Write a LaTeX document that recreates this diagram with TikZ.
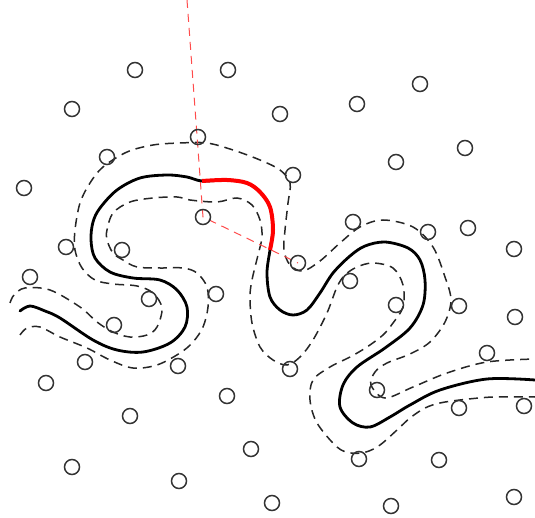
\documentclass[tikz,border=0pt]{standalone}
\usepackage{tikz}

\tikzset{
  sample/.style={draw=black!80,line width=1.5pt},
  band/.style={draw=black!85,line width=1.5pt,dash pattern=on 9pt off 6pt},
  walk/.style={line width=2.8pt,line cap=round},
  piece/.style={red,line width=4pt},
  ray/.style={red!70,line width=1pt,dash pattern=on 8pt off 6pt}
}

\begin{document}
\begin{tikzpicture}[x=1pt,y=-1pt]
  \useasboundingbox (0,0) rectangle (535,518);

  % dashed side curves
  \draw [band] plot [smooth,tension=0.55] coordinates {
    (10,303) (14,295) (25,288) (50,290) (80,307) (97,322) (113,332)
    (130,337) (147,335) (157,327) (162,308) (153,293) (137,286) (113,284)
    (95,280) (82,268) (75,250) (75,230) (80,203) (90,183) (103,167)
    (127,152) (153,145) (180,143) (207,143) (233,150) (260,160) (280,170)
    (290,183) (288,203) (285,230) (284,250) (290,265) (303,271) (320,261)
    (340,243) (360,227) (383,220) (413,227) (433,247) (445,277) (451,300)
    (445,322) (430,342) (410,354) (387,363) (375,372) (371,385) (385,398)
    (413,387) (447,373) (487,362) (535,359)};
  \draw [band] plot [smooth,tension=0.55] coordinates {
    (20,335) (27,328) (40,327) (60,337) (87,348) (110,360) (133,368)
    (157,365) (180,353) (193,342) (203,327) (208,307) (207,287) (197,273)
    (183,268) (160,268) (137,267) (123,260) (113,253) (107,240) (107,230)
    (113,213) (130,202) (153,198) (177,197) (190,200) (217,202) (237,198)
    (252,205) (260,220) (262,237) (258,255) (252,280) (250,297) (252,323)
    (260,347) (273,360) (287,365) (300,357) (313,340) (327,313) (337,287)
    (345,275) (357,267) (373,263) (393,268) (403,285) (403,307) (393,323)
    (383,335) (367,347) (350,357) (330,367) (313,380) (310,400) (317,423)
    (337,447) (351,453) (366,452) (380,445) (397,430) (410,418) (425,408)
    (440,403) (460,400) (493,397) (535,397)};

  % rays from the centre sample
  \coordinate (top) at (187,0);
  \coordinate (mid) at (203,217);
  \coordinate (far) at (298,263);
  \draw [ray] (top) -- (mid) -- (far);

  % the curve, with the part between the rays in red
  \draw [walk] plot [smooth,tension=0.55] coordinates {
    (20,311) (30,306) (45,311) (60,318) (93,340) (117,350) (143,352)
    (170,343) (185,327) (187,307) (177,290) (160,280) (133,278) (110,272)
    (95,258) (91,240) (93,222) (100,208) (117,190) (140,178) (167,175)
    (187,177) (202,181) (227,180) (247,183) (260,192) (270,207) (273,230)
    (270,250) (267,273) (270,297) (280,310) (293,315) (307,310) (320,293)
    (333,273) (350,256) (365,246) (385,242) (408,248) (420,260) (425,280)
    (423,305) (410,328) (385,348) (357,367) (343,385) (340,407) (353,423)
    (370,427) (390,417) (410,405) (440,390) (487,379) (535,380)};
  \draw [piece] plot [smooth,tension=0.55] coordinates {
    (202,181) (227,180) (247,183) (260,192) (270,207) (273,230) (270,250)};

  % samples
  \foreach \p in {(135,70),(228,70),(72,109),(198,137),(107,157),(24,188),
      (357,104),(420,84),(280,114),(465,148),(396,162),(293,175),(203,217),
      (122,250),(66,247),(353,222),(428,232),(468,228),(514,249),(298,263),
      (30,277),(216,294),(149,299),(350,281),(396,305),(459,306),(515,317),
      (114,325),(85,362),(178,366),(290,369),(487,353),(46,383),(377,390),
      (459,408),(524,406),(130,416),(227,396),(251,449),(359,459),(439,460),
      (72,467),(179,481),(272,503),(391,506),(514,497)}
    \draw [sample] \p circle (7.5pt);
\end{tikzpicture}
\end{document}
